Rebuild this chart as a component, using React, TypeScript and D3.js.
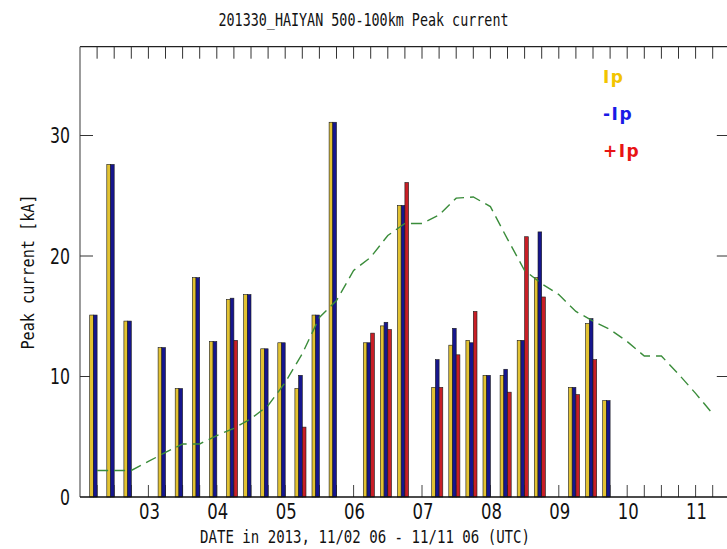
import React from 'react';
import * as d3 from 'd3';

// ---- data (hours after 2013-11-02 00 UTC) ----
const hours = [6, 12, 18, 24, 30, 36, 42, 48, 54, 60, 66, 72, 78, 84, 90, 96, 102, 108, 114, 120, 126, 132, 138, 144, 150, 156, 162, 168, 174, 180, 186, 192, 198, 204, 210, 216, 222];
const ipValues = [15.1, 27.6, 14.6, 0, 12.4, 9.0, 18.2, 12.9, 16.4, 16.8, 12.3, 12.8, 9.0, 15.1, 31.1, 0, 12.8, 14.2, 24.2, 0, 9.1, 12.6, 13.0, 10.1, 10.1, 13.0, 18.2, 0, 9.1, 14.4, 8.0, 0, 0, 0, 0, 0, 0];
const negIpValues = [15.1, 27.6, 14.6, 0, 12.4, 9.0, 18.2, 12.9, 16.5, 16.8, 12.3, 12.8, 10.1, 15.1, 31.1, 0, 12.8, 14.5, 24.2, 0, 11.4, 14.0, 12.8, 10.1, 10.6, 13.0, 22.0, 0, 9.1, 14.8, 8.0, 0, 0, 0, 0, 0, 0];
const posIpValues = [0, 0, 0, 0, 0, 0, 0, 0, 13.0, 0, 0, 0, 5.8, 0, 0, 0, 13.6, 13.9, 26.1, 0, 9.1, 11.8, 15.4, 0, 8.7, 21.6, 16.6, 0, 8.5, 11.4, 0, 0, 0, 0, 0, 0, 0];
const trackValues = [2.2, 2.2, 2.2, 2.95, 3.7, 4.4, 4.4, 5.1, 5.7, 6.5, 7.6, 9.5, 11.9, 14.9, 16.3, 18.8, 19.9, 21.7, 22.7, 22.7, 23.4, 24.8, 24.9, 24.1, 21.4, 18.8, 17.7, 16.8, 15.4, 14.6, 13.9, 12.9, 11.7, 11.7, 10.2, 8.6, 6.9];
const dayLabels = ['03', '04', '05', '06', '07', '08', '09', '10', '11'];
const dayHours = [24, 48, 72, 96, 120, 144, 168, 192, 216];
const yTicks = [0, 10, 20, 30];
const legendLabels = ['Ip', '-Ip', '+Ip'];
const titleText = '201330_HAIYAN 500-100km Peak current';
const xLabelText = 'DATE in 2013, 11/02 06 - 11/11 06 (UTC)';
const yLabelText = 'Peak current [kA]';

const W = 727;
const H = 549;
const FONT = "'DejaVu Sans Mono', monospace";
const SANS = "'DejaVu Sans', sans-serif";
const COLORS = { ip: '#e2c232', neg: '#16168e', pos: '#c81e26', track: '#3a8c3a' };
const LEGEND_COLORS = ['#f2c400', '#1a1ae6', '#e81414'];

export default function App() {
  const x = d3.scaleLinear().domain([0, 228]).range([80, 729.8]);
  const y = d3.scaleLinear().domain([0, 37.37]).range([497, 46.7]);
  const bw = 3.7;
  const minorTicks = d3.range(6, 228, 6);
  const line = d3.line<number>().x((_, i) => x(hours[i])).y((d) => y(d));
  const top = y.range()[1];

  const bars: React.ReactNode[] = [];
  hours.forEach((h, i) => {
    const cx = x(h);
    const series = [
      { v: ipValues[i], x0: cx - 2 * bw, c: COLORS.ip },
      { v: negIpValues[i], x0: cx - bw, c: COLORS.neg },
      { v: posIpValues[i], x0: cx, c: COLORS.pos },
    ];
    series.forEach((s, j) => {
      if (s.v > 0) {
        bars.push(
          <rect key={`b${i}-${j}`} x={s.x0} y={y(s.v)} width={bw} height={y(0) - y(s.v)}
            fill={s.c} stroke="#1a1a1a" strokeWidth={0.6} />
        );
      }
    });
  });

  return (
    <svg width={W} height={H} style={{ position: 'absolute', left: 0, top: 0, background: '#fff' }}
      fontFamily={FONT}>
      <rect x={0} y={0} width={W} height={H} fill="#fff" />
      {/* title */}
      <text x={363.5} y={26} textAnchor="middle" fontSize={18} fill="#111"
        textLength={290} lengthAdjust="spacingAndGlyphs">{titleText}</text>

      {/* frame */}
      <line x1={x(0)} x2={x(228)} y1={top} y2={top} stroke="#222" strokeWidth={1.2} />
      <line x1={x(0)} x2={x(0)} y1={y(0)} y2={top} stroke="#666" strokeWidth={1.3} />
      <line x1={x(228)} x2={x(228)} y1={y(0)} y2={top} stroke="#222" strokeWidth={1.2} />

      {/* top minor ticks */}
      {minorTicks.map((h) => (
        <line key={`tt${h}`} x1={x(h)} x2={x(h)} y1={top} y2={top + 12} stroke="#333" strokeWidth={1} />
      ))}
      {/* bottom minor ticks */}
      {minorTicks.map((h) => (
        <line key={`bt${h}`} x1={x(h)} x2={x(h)} y1={y(0)} y2={y(0) - 12} stroke="#444" strokeWidth={1} />
      ))}
      {/* y ticks left/right */}
      {yTicks.filter((t) => t > 0).map((t) => (
        <g key={`yt${t}`}>
          <line x1={x(0)} x2={x(0) + 13} y1={y(t)} y2={y(t)} stroke="#333" strokeWidth={1} />
          <line x1={x(228) - 13} x2={x(228)} y1={y(t)} y2={y(t)} stroke="#333" strokeWidth={1} />
        </g>
      ))}

      {/* bars */}
      {bars}

      {/* bottom axis */}
      <line x1={x(0)} x2={x(228)} y1={y(0)} y2={y(0)} stroke="#111" strokeWidth={1.5} />

      {/* track line */}
      <path d={line(trackValues) || ''} fill="none" stroke={COLORS.track} strokeWidth={1.4} strokeDasharray="11 6" />

      {/* y tick labels */}
      {yTicks.map((t) => (
        <text key={`yl${t}`} x={70} y={y(t) + 7.5} textAnchor="end" fontSize={21} fill="#111" fontFamily={SANS}
          textLength={String(t).length * 10} lengthAdjust="spacingAndGlyphs">{t}</text>
      ))}
      {/* x tick labels */}
      {dayLabels.map((lab, i) => (
        <text key={`xl${lab}`} x={x(dayHours[i]) + 1} y={518.5} textAnchor="middle" fontSize={21} fill="#111" fontFamily={SANS}
          textLength={21} lengthAdjust="spacingAndGlyphs">{lab}</text>
      ))}

      {/* axis titles */}
      <text x={365} y={543} textAnchor="middle" fontSize={18} fill="#111"
        textLength={330} lengthAdjust="spacingAndGlyphs">{xLabelText}</text>
      <text transform="translate(34,272) rotate(-90)" textAnchor="middle" fontSize={18} fill="#111"
        textLength={155} lengthAdjust="spacingAndGlyphs">{yLabelText}</text>

      {/* legend */}
      {legendLabels.map((lab, i) => (
        <text key={`lg${lab}`} x={603} y={83 + i * 37} fontSize={17} fontWeight="bold" fill={LEGEND_COLORS[i]}
          fontFamily={SANS} letterSpacing={1.5}>{lab}</text>
      ))}
    </svg>
  );
}
